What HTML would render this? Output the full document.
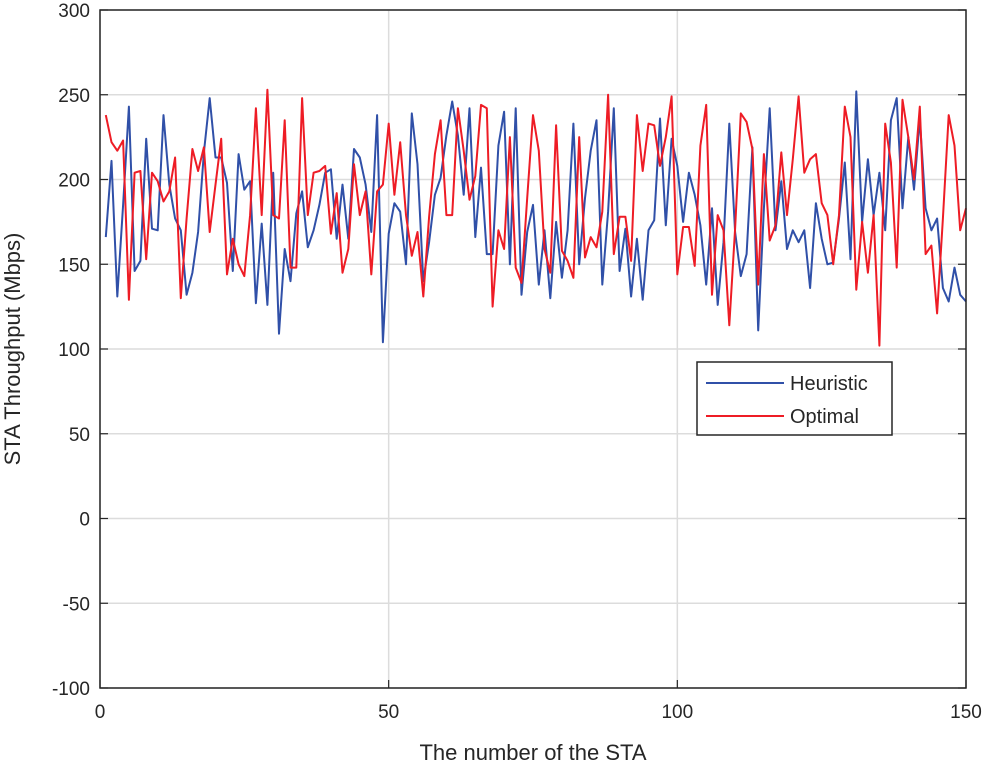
<!DOCTYPE html>
<html><head><meta charset="utf-8"><style>
body{margin:0;background:#fff;}
svg text{font-family:"Liberation Sans",sans-serif;}
</style></head><body>
<svg id="chart" width="985" height="765" viewBox="0 0 985 765" xmlns="http://www.w3.org/2000/svg">
<g id="grid"></g>
<g id="series"></g>
<rect x="100" y="10" width="866" height="678" fill="none" stroke="#262626" stroke-width="1.5"/>
<g id="ticks"></g>
<text x="533" y="760" font-size="22" text-anchor="middle" fill="#262626">The number of the STA</text>
<text transform="translate(20,349) rotate(-90)" font-size="22" text-anchor="middle" fill="#262626">STA Throughput (Mbps)</text>
<g>
<rect x="697" y="362" width="195" height="73" fill="#fff" stroke="#262626" stroke-width="1.5"/>
<line x1="706" y1="383" x2="784" y2="383" stroke="#3050a8" stroke-width="2"/>
<text x="790" y="390" font-size="20" fill="#262626">Heuristic</text>
<line x1="706" y1="416" x2="784" y2="416" stroke="#ee1c25" stroke-width="2"/>
<text x="790" y="423" font-size="20" fill="#262626">Optimal</text>
</g>
</svg>
<script>
const xTicks=[0,50,100,150];
const yTicks=[-100,-50,0,50,100,150,200,250,300];
const heuristic=[166,211,131,185,243,146,152,224,171,170,238,197,177,170,132,145,169,216,248,213,213,198,146,215,194,199,127,174,126,204,109,159,140,180,193,160,170,185,204,206,165,197,165,218,213,197,169,238,104,168,186,181,150,239,209,140,163,191,201,226,246,226,191,242,166,207,156,156,220,240,150,242,132,169,185,138,170,130,175,142,170,233,150,189,217,235,138,181,242,146,171,131,165,129,170,176,236,173,224,208,175,204,191,173,138,183,126,163,233,169,143,156,219,111,183,242,170,199,159,170,163,170,136,186,165,150,151,177,210,153,252,175,212,179,204,170,235,248,183,225,194,236,183,170,177,136,128,148,132,128];
const optimal=[238,222,217,223,129,204,205,153,204,199,187,193,213,130,177,218,205,219,169,197,224,144,165,150,143,179,242,179,253,179,177,235,148,148,248,179,204,205,208,168,192,145,159,209,179,193,144,193,197,233,191,222,179,155,169,131,178,215,235,179,179,242,217,188,202,244,242,125,170,159,225,148,139,189,238,217,159,145,232,158,152,142,225,154,166,160,181,250,156,178,178,152,238,205,233,232,208,225,249,144,172,172,149,220,244,132,179,170,114,171,239,234,218,138,215,164,173,216,179,212,249,204,212,215,186,179,150,179,243,225,135,175,145,179,102,233,210,148,247,225,200,243,156,161,121,177,238,220,170,183];
const X=v=>100+(v/150)*866;
const Y=v=>688-((v+100)/400)*678;
const NS="http://www.w3.org/2000/svg";
const grid=document.getElementById('grid'),ticks=document.getElementById('ticks'),series=document.getElementById('series');
function mk(tag,attrs,parent){const e=document.createElementNS(NS,tag);for(const k in attrs)e.setAttribute(k,attrs[k]);parent.appendChild(e);return e;}
xTicks.forEach(t=>{
 const g=mk('line',{x1:X(t),x2:X(t),y1:10,y2:688,stroke:'#dcdcdc','stroke-width':1.5},grid);
 
 
 const tk=mk('line',{x1:X(t),x2:X(t),y1:688,y2:680,stroke:'#262626','stroke-width':1.2},ticks);
 
 
 const tx=mk('text',{x:X(t),y:718,'font-size':19,'text-anchor':'middle',fill:'#262626'},ticks);
 
 
 tx.textContent=t;
});
yTicks.forEach(t=>{
 const g=mk('line',{x1:100,x2:966,y1:Y(t),y2:Y(t),stroke:'#dcdcdc','stroke-width':1.5},grid);
 
 
 const tk=mk('line',{x1:100,x2:108,y1:Y(t),y2:Y(t),stroke:'#262626','stroke-width':1.2},ticks);
 
 
 const tk2=mk('line',{x1:958,x2:966,y1:Y(t),y2:Y(t),stroke:'#262626','stroke-width':1.2},ticks);
 
 
 const tx=mk('text',{x:90,y:Y(t)+7,'font-size':19,'text-anchor':'end',fill:'#262626'},ticks);
 
 
 tx.textContent=t;
});
function line(data,color,name){
 const pts=data.map((v,i)=>X(i+1).toFixed(1)+','+Y(v).toFixed(1)).join(' ');
 const p=mk('polyline',{points:pts,fill:'none',stroke:color,'stroke-width':2,'stroke-linejoin':'round'},series);
 
 
}
line(heuristic,'#3050a8','heuristic-line');
line(optimal,'#ee1c25','optimal-line');
</script>
</body></html>
